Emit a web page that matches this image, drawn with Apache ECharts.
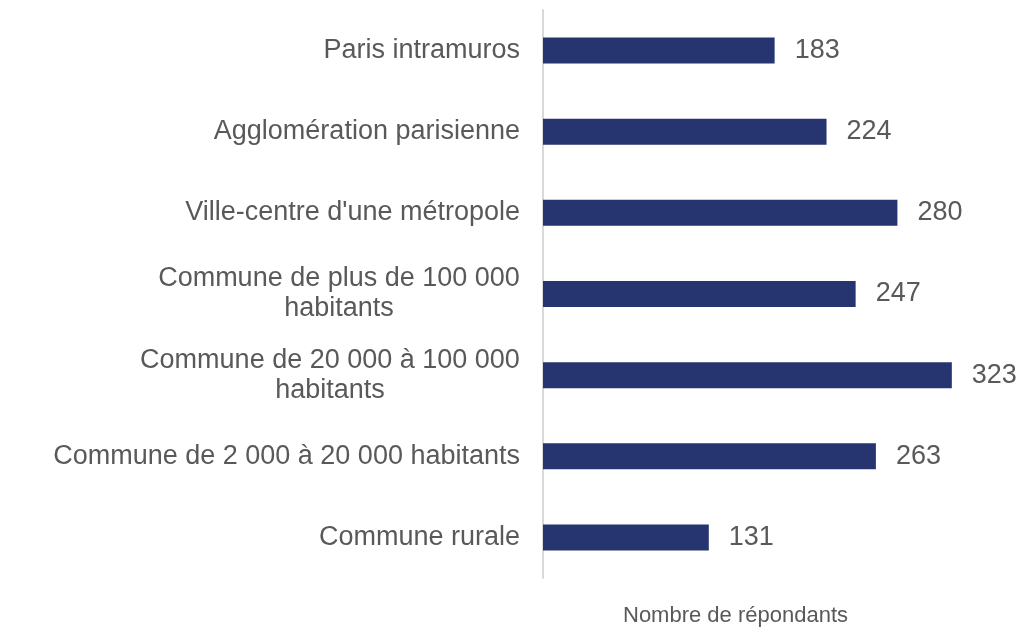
<!DOCTYPE html>
<html>
<head>
<meta charset="utf-8">
<script src="https://cdn.jsdelivr.net/npm/echarts@6/dist/echarts.min.js"></script>
<style>
  html, body { margin: 0; padding: 0; background: #fff; }
  #main { width: 1023px; height: 627px; }
</style>
</head>
<body>
<div id="main"></div>
<script>
var categories = [
    'Paris intramuros',
    'Agglomération parisienne',
    "Ville-centre d'une métropole",
    'Commune de plus de 100 000\nhabitants',
    'Commune de 20 000 à 100 000\nhabitants',
    'Commune de 2 000 à 20 000 habitants',
    'Commune rurale'
];
var values = [183, 224, 280, 247, 323, 263, 131];
var axisTitle = 'Nombre de répondants';

var FONT = 'Liberation Sans, Arial, sans-serif';
var FS = 27;
var TXT = '#595959';

// largeur des libellés sur deux lignes, pour centrer la 2e ligne sous la 1re
var ctx = document.createElement('canvas').getContext('2d');
ctx.font = FS + 'px ' + FONT;
var rich = {};
categories.forEach(function (c, i) {
    if (c.indexOf('\n') >= 0) {
        var w = 0;
        c.split('\n').forEach(function (l) { w = Math.max(w, ctx.measureText(l).width); });
        rich['w' + i] = { width: Math.ceil(w), align: 'center', fontSize: FS, fontFamily: FONT, color: TXT, lineHeight: 30 };
    }
});

var myChart = echarts.init(document.getElementById('main'));

var option = {
    backgroundColor: '#fff',
    animation: false,
    title: {
        text: axisTitle,
        left: 618,
        top: 600,
        textStyle: { fontSize: 22, fontWeight: 'normal', color: TXT, fontFamily: FONT }
    },
    grid: { left: 543, top: 10, width: 443, bottom: 49 },
    xAxis: {
        type: 'value',
        min: 0,
        max: 350,
        show: false
    },
    yAxis: {
        type: 'category',
        inverse: true,
        data: categories,
        axisLine: { show: true, lineStyle: { color: '#d9d9d9', width: 2 } },
        axisTick: { show: false },
        axisLabel: {
            margin: 23,
            fontSize: FS,
            fontFamily: FONT,
            color: TXT,
            lineHeight: 30,
            rich: rich,
            formatter: function (v, i) {
                if (v.indexOf('\n') < 0) return v;
                return v.split('\n').map(function (l) { return '{w' + i + '|' + l + '}'; }).join('\n');
            }
        }
    },
    series: [{
        type: 'bar',
        data: values,
        barWidth: 26,
        itemStyle: { color: '#263470' },
        label: {
            show: true,
            position: 'right',
            distance: 20,
            fontSize: FS,
            fontFamily: FONT,
            color: TXT
        }
    }]
};

myChart.setOption(option);
</script>
</body>
</html>
